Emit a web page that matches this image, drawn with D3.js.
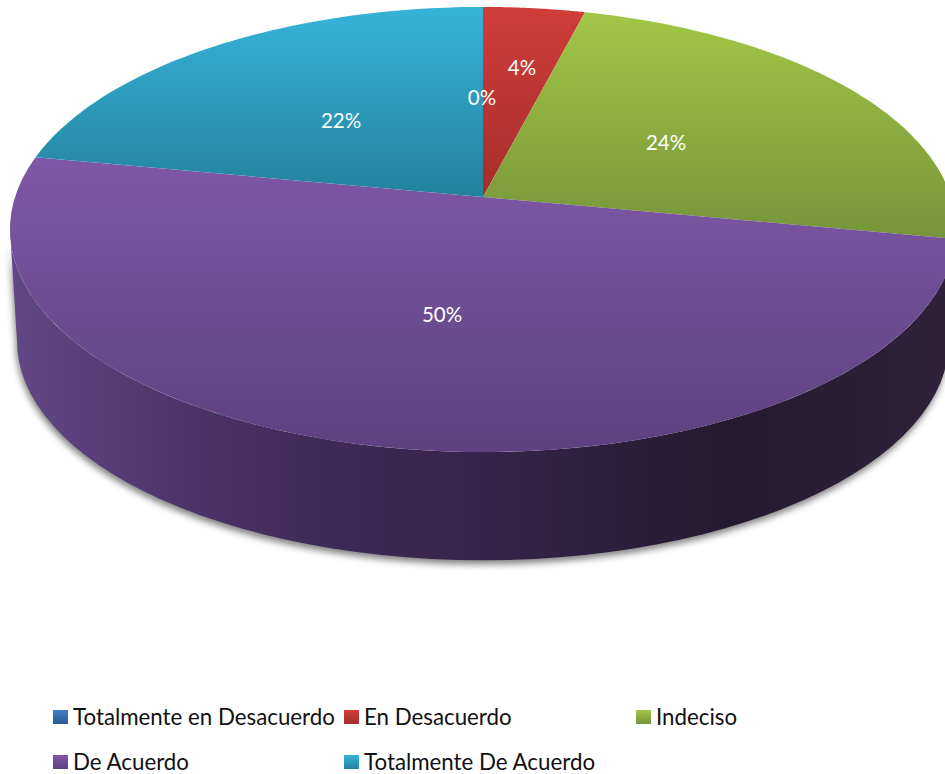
<!DOCTYPE html>
<html>
<head>
<meta charset="utf-8">
<script src="https://cdn.jsdelivr.net/npm/d3@7"></script>
<style>
html,body{margin:0;padding:0;background:#fff}
svg{display:block}
text{font-family:Lato,"Open Sans",sans-serif}
</style>
</head>
<body>
<svg id="chart" width="945" height="774"></svg>
<script>
const categories = ["Totalmente en Desacuerdo","En Desacuerdo","Indeciso","De Acuerdo","Totalmente De Acuerdo"];
const values = [0,4,24,50,22];
const labels = ["0%","4%","24%","50%","22%"];
const topColors = ["#3f7fc6","#d03d39","#a2c646","#7f58a7","#36b3d8"];
const bottomColors = ["#2b5a92","#a52e2b","#76943a","#5d4180","#23829e"];
const wallStops = [[0,"#624786"],[0.1,"#573d78"],[0.2,"#4a3366"],[0.32,"#3f2b58"],[0.5,"#35244a"],[0.76,"#241a30"],[0.95,"#2d2039"],[1,"#2f2139"]];
const legendCols = [53,344,636,53,344];
const legendRows = [717,717,717,762,762];

const svg = d3.select("#chart");
const defs = svg.append("defs");

// Oblique view of the disc: far edge shrinks, near edge grows
const apex = {x:483,y:197}, A = 468, B = 217.8, K = 0.146;
const wallDrop = 112, wallScale = 0.985;
function project(t, level){
  const u = Math.sin(t), v = -Math.cos(t), w = 1 - K*v;
  const s = level ? wallScale : 1;
  return [apex.x + s*A*u/w, apex.y + (level ? wallDrop : 0) + s*B*v/w];
}
const arcAngles = (a,b) => d3.range(0,61).map(i => a + (b-a)*i/60);

const pie = d3.pie().sort(null).value(d => d)(values);
const line = d3.line();

categories.forEach((c,i) => {
  const g = defs.append("linearGradient").attr("id","face"+i).attr("x1",0).attr("x2",0).attr("y1",0).attr("y2",1);
  g.append("stop").attr("offset",0).attr("stop-color",topColors[i]);
  g.append("stop").attr("offset",1).attr("stop-color",bottomColors[i]);
});
const wg = defs.append("linearGradient").attr("id","wall").attr("x1",0).attr("x2",1).attr("y1",0).attr("y2",0);
wallStops.forEach(s => wg.append("stop").attr("offset",s[0]).attr("stop-color",s[1]));
defs.append("filter").attr("id","soft").attr("x","-10%").attr("y","-10%").attr("width","120%").attr("height","120%")
  .append("feGaussianBlur").attr("stdDeviation",3.5);

// Wall of the disc: runs between the two silhouette angles of the projected rim
const silhouette = Math.acos(-K);
const frontArc = arcAngles(silhouette, 2*Math.PI - silhouette);
const wallPath = line([
  ...frontArc.map(t => project(t,0)),
  ...frontArc.slice().reverse().map(t => project(t,1))
]) + "Z";
svg.append("path").attr("d",wallPath).attr("fill","#000").attr("opacity",0.5)
  .attr("filter","url(#soft)").attr("transform","translate(-1,4)");
svg.append("path").attr("d",wallPath).attr("fill","url(#wall)");

// Top faces
const faces = svg.append("g");
faces.selectAll("path").data(pie).join("path")
  .attr("d", d => line([[apex.x,apex.y], ...arcAngles(d.startAngle,d.endAngle).map(t => project(t,0))]) + "Z")
  .attr("fill",(d,i) => "url(#face"+i+")");

// Percentage labels
const labelPos = [[482,98],[522,68],[666,143],[442,315],[341,121]];
svg.append("g").selectAll("text").data(labels).join("text")
  .attr("x",(d,i) => labelPos[i][0]).attr("y",(d,i) => labelPos[i][1])
  .attr("dy","0.35em").attr("text-anchor","middle")
  .attr("fill","#fff").attr("font-size",20.5).text(d => d);

// Legend
const legend = svg.append("g").selectAll("g").data(categories).join("g")
  .attr("transform",(d,i) => `translate(${legendCols[i]},${legendRows[i]})`);
legend.append("rect").attr("x",0).attr("y",-7).attr("width",15).attr("height",14)
  .attr("fill",(d,i) => "url(#face"+i+")");
legend.append("text").attr("x",20).attr("dy","0.36em").attr("font-size",22.3).attr("fill","#111").text(d => d);
</script>
</body>
</html>
